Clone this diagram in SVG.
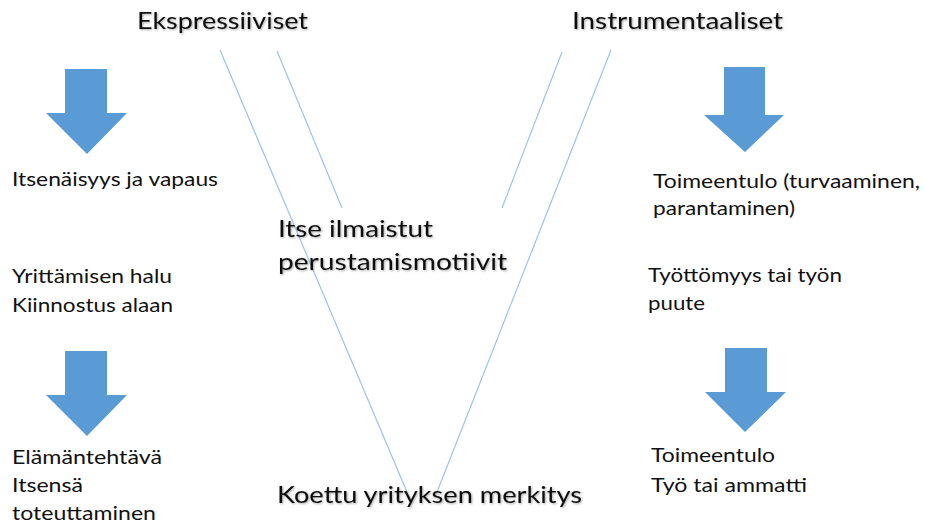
<svg xmlns="http://www.w3.org/2000/svg" width="925" height="524" viewBox="0 0 925 524">
<defs>
<style>
.t{font-family:Lato,"Open Sans","Liberation Sans",sans-serif;fill:#111}
.b{font-size:19px}
.h{font-size:23px;fill:#111}
.arr{fill:#5b9bd5}
.ln{stroke:#9dc3e6;stroke-width:1.2;fill:none}
</style>
<filter id="sh" x="-5%" y="-20%" width="110%" height="150%">
<feDropShadow dx="1" dy="1" stdDeviation="0.8" flood-color="#000" flood-opacity="0.35"/>
</filter>
</defs>
<rect width="925" height="524" fill="#fff"/>
<g id="connectors">
<line class="ln" x1="220" y1="50" x2="407" y2="492"/>
<line class="ln" x1="277" y1="51" x2="342" y2="208"/>
<line class="ln" x1="562" y1="52" x2="502" y2="208"/>
<line class="ln" x1="611" y1="50" x2="437" y2="492"/>
</g>
<g id="arrow-left-1"><polygon class="arr" points="65,69 107,69 107,113 127,113 87,154 46,113 65,113"/></g>
<g id="arrow-left-2"><polygon class="arr" points="65,351 107,351 107,395 127,395 87,436 46,395 65,395"/></g>
<g id="arrow-right-1"><polygon class="arr" points="724,67 765,67 765,115 784,115 745,152 704,115 724,115"/></g>
<g id="arrow-right-2"><polygon class="arr" points="725,348 767,348 767,392 786,392 745,432 705,392 725,392"/></g>
<g id="title-ekspressiiviset"><text class="t h" filter="url(#sh)" x="137" y="29" textLength="171" lengthAdjust="spacingAndGlyphs">Ekspressiiviset</text></g>
<g id="title-instrumentaaliset"><text class="t h" filter="url(#sh)" x="572" y="29" textLength="211" lengthAdjust="spacingAndGlyphs">Instrumentaaliset</text></g>
<g id="center-label"><text class="t h" filter="url(#sh)" x="278" y="237" textLength="155" lengthAdjust="spacingAndGlyphs">Itse ilmaistut</text>
<text class="t h" filter="url(#sh)" x="278" y="270" textLength="229" lengthAdjust="spacingAndGlyphs">perustamismotiivit</text></g>
<g id="bottom-label"><text class="t h" filter="url(#sh)" x="277" y="503" textLength="305" lengthAdjust="spacingAndGlyphs">Koettu yrityksen merkitys</text></g>
<g id="left-1"><text class="t b" x="12" y="186" textLength="206" lengthAdjust="spacingAndGlyphs">Itsenäisyys ja vapaus</text></g>
<g id="left-2"><text class="t b" x="12" y="283" textLength="160" lengthAdjust="spacingAndGlyphs">Yrittämisen halu</text>
<text class="t b" x="12" y="312" textLength="161" lengthAdjust="spacingAndGlyphs">Kiinnostus alaan</text></g>
<g id="left-3"><text class="t b" x="12" y="464" textLength="150" lengthAdjust="spacingAndGlyphs">Elämäntehtävä</text>
<text class="t b" x="12" y="492" textLength="71" lengthAdjust="spacingAndGlyphs">Itsensä</text>
<text class="t b" x="12" y="520" textLength="144" lengthAdjust="spacingAndGlyphs">toteuttaminen</text></g>
<g id="right-1"><text class="t b" x="653" y="188" textLength="267" lengthAdjust="spacingAndGlyphs">Toimeentulo (turvaaminen,</text>
<text class="t b" x="653" y="215" textLength="142" lengthAdjust="spacingAndGlyphs">parantaminen)</text></g>
<g id="right-2"><text class="t b" x="648" y="282" textLength="194" lengthAdjust="spacingAndGlyphs">Työttömyys tai työn</text>
<text class="t b" x="648" y="310" textLength="57" lengthAdjust="spacingAndGlyphs">puute</text></g>
<g id="right-3"><text class="t b" x="651" y="462" textLength="124" lengthAdjust="spacingAndGlyphs">Toimeentulo</text>
<text class="t b" x="651" y="492" textLength="156" lengthAdjust="spacingAndGlyphs">Työ tai ammatti</text></g>
</svg>
